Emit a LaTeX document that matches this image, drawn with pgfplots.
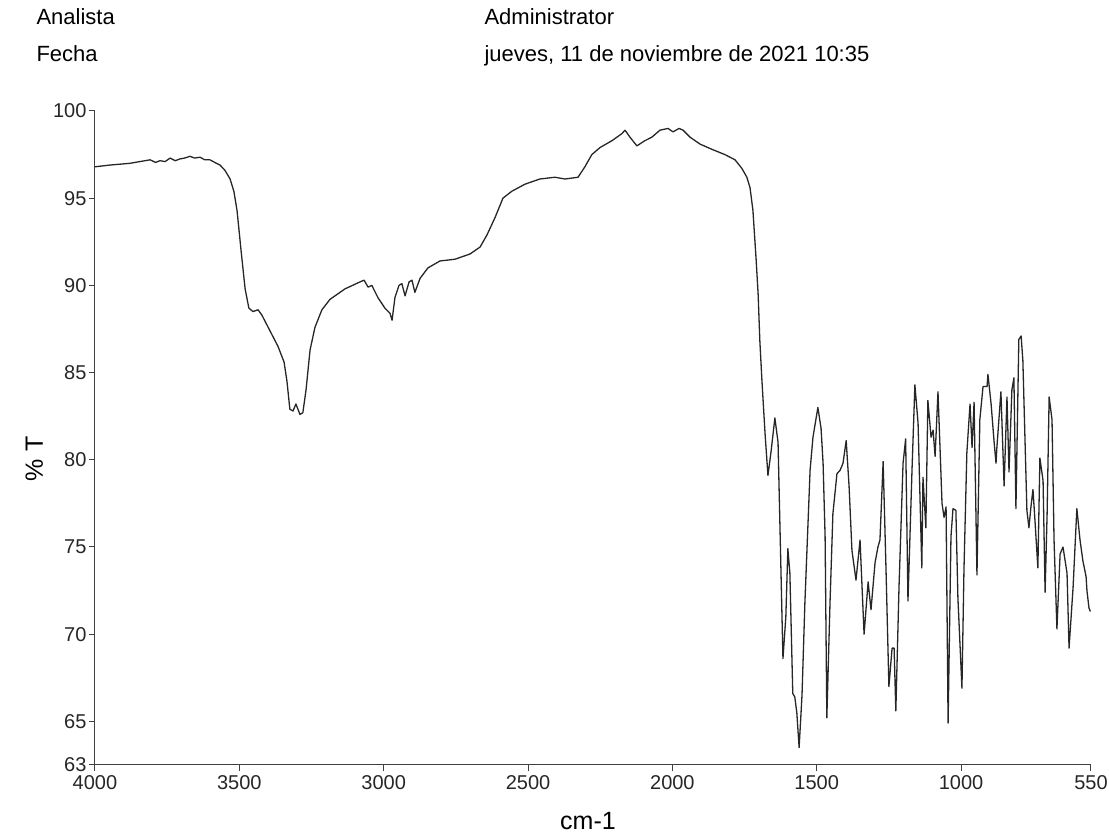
\documentclass[border=0pt]{standalone}
\usepackage{fontspec}
\setmainfont{Liberation Sans}
\usepackage{pgfplots}
\pgfplotsset{compat=1.18}
\usepackage{pgfplotstable}
\pgfplotstableread{
wn T
4000 96.8
3948 96.9
3879 97.0
3809 97.2
3790 97.05
3775 97.15
3757 97.1
3740 97.3
3722 97.15
3706 97.25
3690 97.3
3671 97.4
3655 97.3
3636 97.35
3620 97.2
3602 97.2
3585 97.05
3567 96.9
3550 96.6
3532 96.1
3519 95.4
3508 94.3
3494 92.0
3480 89.8
3467 88.7
3453 88.5
3435 88.6
3422 88.3
3394 87.4
3366 86.5
3345 85.6
3335 84.5
3325 82.9
3314 82.8
3304 83.2
3290 82.6
3280 82.7
3269 84.0
3255 86.3
3238 87.6
3214 88.6
3186 89.2
3134 89.8
3082 90.2
3068 90.3
3054 89.9
3041 90.0
3020 89.3
2996 88.7
2978 88.4
2971 88.0
2961 89.3
2947 90.0
2937 90.1
2926 89.4
2912 90.2
2902 90.3
2892 89.6
2874 90.4
2847 91.0
2805 91.4
2753 91.5
2701 91.8
2666 92.2
2642 92.9
2614 93.9
2587 95.0
2556 95.4
2511 95.8
2459 96.1
2407 96.2
2372 96.1
2327 96.2
2303 96.8
2279 97.5
2251 97.9
2209 98.3
2175 98.7
2164 98.9
2147 98.5
2123 98.0
2095 98.3
2071 98.5
2043 98.9
2015 99.0
1998 98.8
1977 99.0
1963 98.9
1939 98.5
1904 98.1
1863 97.8
1818 97.5
1783 97.2
1759 96.7
1742 96.2
1731 95.6
1721 94.3
1710 91.5
1703 89.5
1697 86.8
1690 84.6
1679 81.5
1669 79.1
1658 80.5
1645 82.4
1634 81.0
1617 68.6
1607 71.0
1600 74.9
1593 73.5
1583 66.6
1576 66.4
1569 65.5
1561 63.5
1551 66.5
1541 71.8
1523 79.4
1513 81.3
1496 83.0
1485 81.8
1478 79.8
1471 75.6
1465 65.2
1454 71.8
1444 76.9
1430 79.2
1419 79.4
1409 79.8
1398 81.1
1388 78.5
1378 74.8
1364 73.1
1350 75.4
1336 70.0
1322 73.0
1312 71.4
1298 74.1
1288 75.0
1281 75.4
1270 79.9
1260 73.7
1250 67.0
1239 69.2
1232 69.2
1226 65.6
1215 72.7
1201 79.8
1192 81.2
1184 71.9
1170 79.4
1160 84.3
1149 82.1
1136 73.8
1132 79.0
1122 76.1
1115 83.4
1104 81.3
1097 81.7
1090 80.2
1080 83.9
1066 77.5
1059 76.7
1052 77.3
1045 64.9
1035 75.6
1028 77.2
1018 77.1
1011 72.1
997 66.9
990 73.7
980 80.4
969 83.2
962 80.7
955 83.3
945 73.4
935 82.3
924 84.2
910 84.2
907 84.9
896 83.2
886 81.1
879 79.8
876 80.7
862 83.9
851 78.5
841 83.6
834 79.3
824 84.0
817 84.7
810 77.2
800 86.9
792 87.1
786 85.7
772 77.1
765 76.1
758 77.3
751 78.3
744 76.5
734 73.8
727 80.1
716 78.8
709 72.4
702 76.9
695 83.6
685 82.3
678 75.4
668 70.3
657 74.6
647 75.0
633 73.5
626 69.2
612 72.7
599 77.2
588 75.4
578 74.2
567 73.3
564 72.5
557 71.5
552 71.3
}\spectrum
\begin{document}
\begin{tikzpicture}[x=1pt,y=1pt]
\path[use as bounding box] (0,0) rectangle (1109,834);
\node[anchor=base west,font=\fontsize{22}{22}\selectfont] at (33,809) {Analista};
\node[anchor=base west,font=\fontsize{22}{22}\selectfont] at (33,772) {Fecha};
\node[anchor=base west,font=\fontsize{22}{22}\selectfont] at (481,809) {Administrator};
\node[anchor=base west,font=\fontsize{22}{22}\selectfont] at (481,772) {jueves, 11 de noviembre de 2021 10:35};
\begin{axis}[
  at={(95pt,69pt)}, anchor=south west,
  scale only axis, width=996pt, height=654pt,
  x dir=reverse, xmin=550, xmax=4000, ymin=62.5, ymax=100,
  axis x line*=bottom, axis y line*=left,
  axis line style={-, black!75, line width=1pt},
  tick align=outside, major tick length=6pt,
  tick style={black!75, line width=1pt},
  xtick={4000,3500,3000,2500,2000,1500,1000,550},
  xticklabels={4000,3500,3000,2500,2000,1500,1000,550},
  ytick={62.5,65,70,75,80,85,90,95,100},
  yticklabels={63,65,70,75,80,85,90,95,100},
  ticklabel style={font=\fontsize{20}{20}\selectfont, text=black!85},
  yticklabel style={xshift=1pt},
  xticklabel style={yshift=-1pt},
  xlabel={cm-1}, ylabel={\% T},
  xlabel style={font=\fontsize{25}{25}\selectfont, at={(axis description cs:0.495,-0.085)}, anchor=center},
  ylabel style={font=\fontsize{25}{25}\selectfont, at={(axis description cs:-0.061,0.468)}, anchor=center},
  clip=false,
]
\addplot[black!85, line width=1.3pt, line join=round] table[x=wn,y=T] {\spectrum};
\end{axis}
\end{tikzpicture}
\end{document}
